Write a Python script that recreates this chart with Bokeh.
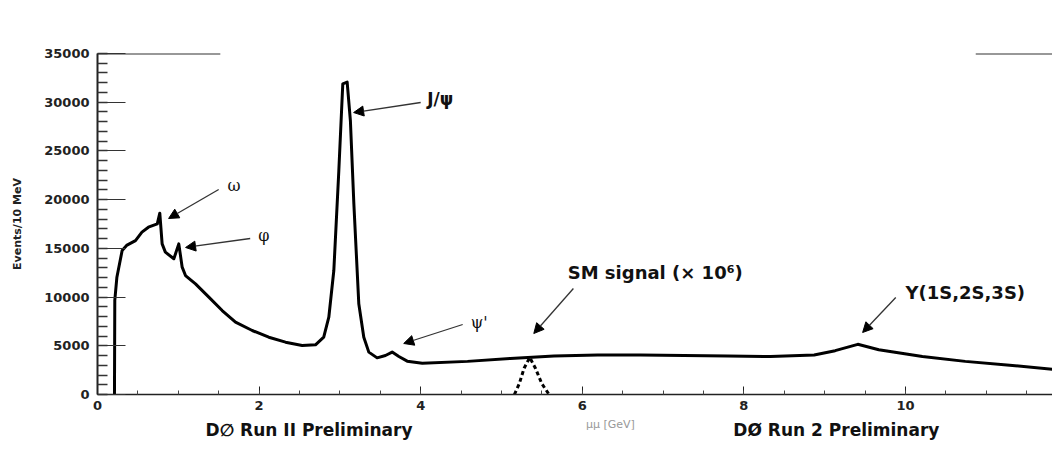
import math
from bokeh.plotting import figure
from bokeh.layouts import column
from bokeh.models import Range1d, FixedTicker, Label, Arrow, NormalHead
from bokeh.embed import file_html
from bokeh.resources import INLINE

# ---- data ----
mass = [0.21, 0.214, 0.24, 0.305, 0.36, 0.47, 0.55, 0.63, 0.74, 0.771, 0.80, 0.84,
        0.945, 1.006, 1.048, 1.089, 1.213, 1.378, 1.543, 1.708, 1.915, 2.12, 2.327,
        2.533, 2.698, 2.80, 2.863, 2.925, 2.987, 3.036, 3.09, 3.13, 3.173, 3.234,
        3.296, 3.358, 3.461, 3.564, 3.647, 3.73, 3.833, 4.02, 4.58, 5.11, 5.65, 6.19,
        6.72, 7.26, 7.80, 8.33, 8.87, 9.13, 9.41, 9.67, 10.21, 10.74, 11.29, 11.87]
events = [0, 9650, 12040, 14780, 15300, 15800, 16660, 17170, 17520, 18610, 15460, 14610,
          13930, 15460, 13070, 12210, 11360, 9990, 8620, 7420, 6570, 5880, 5370,
          5030, 5100, 5880, 7930, 12730, 22990, 31890, 32060, 28120, 19570, 9310,
          5880, 4350, 3760, 4000, 4350, 3900, 3420, 3200, 3400, 3700, 3950, 4050,
          4050, 4000, 3950, 3900, 4050, 4500, 5150, 4600, 3900, 3400, 3000, 2550]

sm_mass = [5.16, 5.22, 5.28, 5.35, 5.42, 5.50, 5.59]
sm_events = [0, 1100, 2700, 3800, 2700, 1100, 0]

x_ticks = [0, 2, 4, 6, 8, 10]
x_minor = [i * 0.5 for i in range(0, 25)]
y_ticks = [0, 5000, 10000, 15000, 20000, 25000, 30000, 35000]
y_minor = [i * 1000 for i in range(0, 36)]

# annotations: (text, text_x, text_y, arrow_from_x, arrow_from_y, arrow_to_x, arrow_to_y, font, size, style)
annotations = [
    ("J/ψ", 4.08, 30380, 4.0, 29970, 3.17, 28940, "DejaVu Sans", "17px", "bold"),
    ("ω", 1.61, 21450, 1.50, 21040, 0.88, 18065, "DejaVu Serif", "16px", "normal"),
    ("φ", 1.99, 16320, 1.89, 16010, 1.09, 15090, "DejaVu Serif", "16px", "normal"),
    ("ψ'", 4.62, 7390, 4.52, 7185, 3.79, 5235, "DejaVu Serif", "16px", "normal"),
    ("SM signal (× 10⁶)", 5.82, 12520, 5.89, 10880, 5.40, 6260, "DejaVu Sans", "18px", "bold"),
    ("Υ(1S,2S,3S)", 10.0, 10470, 9.88, 9956, 9.47, 6364, "DejaVu Sans", "18px", "bold"),
]

X_END = 11.82

p = figure(width=1052, height=416, output_backend="svg", toolbar_location=None,
           x_range=Range1d(0, X_END), y_range=Range1d(0, 35000),
           min_border_left=97, min_border_right=0, min_border_top=53, min_border_bottom=22)
p.background_fill_color = "white"
p.border_fill_color = "white"
p.outline_line_color = None
p.xgrid.visible = False
p.ygrid.visible = False

# axes
xa = p.xaxis[0]
xa.ticker = FixedTicker(ticks=x_ticks, minor_ticks=x_minor)
xa.major_tick_in = 8
xa.major_tick_out = 0
xa.minor_tick_in = 4
xa.minor_tick_out = 0
xa.axis_line_width = 1.5
xa.axis_line_color = "#222222"
xa.major_tick_line_color = "#222222"
xa.minor_tick_line_color = "#444444"
xa.major_label_text_font = "DejaVu Sans"
xa.major_label_text_font_style = "bold"
xa.major_label_text_font_size = "13px"
xa.major_label_text_color = "#222222"
xa.major_label_standoff = 6

ya = p.yaxis[0]
ya.ticker = FixedTicker(ticks=y_ticks, minor_ticks=y_minor)
ya.major_tick_in = 28
ya.major_tick_out = 0
ya.minor_tick_in = 10
ya.minor_tick_out = 0
ya.axis_line_width = 2
ya.axis_line_color = "#222222"
ya.major_tick_line_color = "#333333"
ya.minor_tick_line_color = "#333333"
ya.minor_tick_line_width = 1.5
ya.major_label_text_font = "DejaVu Sans"
ya.major_label_text_font_style = "bold"
ya.major_label_text_font_size = "13px"
ya.major_label_text_color = "#222222"
ya.major_label_standoff = 8
ya.axis_label = "Events/10 MeV"
ya.axis_label_text_font = "DejaVu Sans"
ya.axis_label_text_font_style = "bold"
ya.axis_label_text_font_size = "11px"
ya.axis_label_text_color = "#222222"
ya.axis_label_standoff = 17

# partial top frame
p.segment(x0=[0, 10.87], y0=[35000, 35000], x1=[1.52, X_END], y1=[35000, 35000],
          line_color="#333333", line_width=2)

# curves
p.line(mass, events, line_color="black", line_width=3, line_join="round")
p.line(sm_mass, sm_events, line_color="black", line_width=3, line_dash="4 3")

# annotations
for (txt, tx, ty, ax0, ay0, ax1, ay1, font, size, style) in annotations:
    p.add_layout(Arrow(end=NormalHead(size=10, fill_color="black", line_color="black"),
                       x_start=ax0, y_start=ay0, x_end=ax1, y_end=ay1,
                       line_color="#333333", line_width=1.3))
    p.add_layout(Label(x=tx, y=ty, text=txt, text_font=font, text_font_size=size,
                       text_font_style=style, text_align="left", text_baseline="middle",
                       text_color="#111111"))

# caption strip below the chart (frame aligned with the main chart, same GeV scale)
cap = figure(width=1052, height=25, output_backend="svg", toolbar_location=None,
             x_range=Range1d(0, X_END), y_range=Range1d(0, 25),
             min_border_left=97, min_border_right=0, min_border_top=0, min_border_bottom=0)
cap.axis.visible = False
cap.grid.visible = False
cap.outline_line_color = None
cap.background_fill_color = "white"
cap.border_fill_color = "white"
cap.add_layout(Label(x=6.37, y=17, text="μμ  [GeV]", text_font="DejaVu Sans",
                     text_font_size="11px", text_align="center", text_baseline="middle",
                     text_color="#999999"))
cap.add_layout(Label(x=1.337, y=12, text="D∅ Run II Preliminary", text_font="DejaVu Sans",
                     text_font_style="bold", text_font_size="17px", text_align="left",
                     text_baseline="middle", text_color="#111111"))
cap.add_layout(Label(x=7.87, y=12, text="DØ Run 2 Preliminary", text_font="DejaVu Sans",
                     text_font_style="bold", text_font_size="17px", text_align="left",
                     text_baseline="middle", text_color="#111111"))

layout = column(p, cap, spacing=0)
open("out.html", "w").write(file_html(layout, INLINE))
